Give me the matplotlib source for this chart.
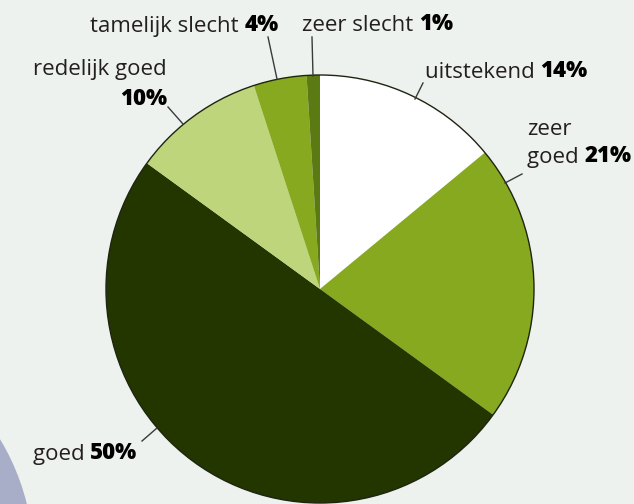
import matplotlib.pyplot as plt
from matplotlib.patches import Circle

# data
labels = ["uitstekend", "zeer goed", "goed", "redelijk goed", "tamelijk slecht", "zeer slecht"]
values = [14, 21, 50, 10, 4, 1]
colors = ["#ffffff", "#87a91f", "#233600", "#bfd57b", "#87a91f", "#5b7a14"]

W, H = 634, 504
bg = "#eef2ef"
txt_col = "#231f20"
font = "Open Sans"

fig = plt.figure(figsize=(W / 100, H / 100), dpi=100, facecolor=bg)
ax = fig.add_axes([0, 0, 1, 1])


def px(x, y):
    # image pixel coords -> axes data coords
    return x, H - y


# blue-grey shape in the bottom-left corner
ax.add_patch(Circle(px(-200, 560), 233, color="#a9aec8", zorder=0))

cx, cy = px(320, 289)
R = 214
ax.pie(values, colors=colors, startangle=90, counterclock=False,
       center=(cx, cy), radius=R, wedgeprops=dict(linewidth=0),
       frame=True)
ax.set_xlim(0, W)
ax.set_ylim(0, H)
ax.set_aspect("equal")
ax.axis("off")
ax.add_patch(Circle((cx, cy), R, fill=False, edgecolor="#1e2410", lw=1.0, zorder=5))

# leader lines (pixel positions)
leaders = [
    ((423, 83), (415, 99)),
    ((522, 174), (505, 183)),
    ((142, 441), (157, 428)),
    ((168, 107), (183, 124)),
    ((268, 37), (277, 79)),
    ((312, 37), (313, 76)),
]
for a, b in leaders:
    (x0, y0), (x1, y1) = px(*a), px(*b)
    ax.plot([x0, x1], [y0, y1], color="#3a3a3a", lw=1.0, zorder=6)

fs = 16


def left_label(x, y, normal, pct):
    t = ax.text(*px(x, y), normal + " ", fontsize=fs, family=font,
                color=txt_col, va="baseline", ha="left")
    ax.annotate(pct, xy=(1, 0), xycoords=t, fontsize=fs, family=font,
                fontweight="black", color="black", va="bottom", ha="left")


def right_label(x, y, normal, pct):
    t = ax.text(*px(x, y), pct, fontsize=fs, family=font, fontweight="black",
                color="black", va="baseline", ha="right")
    ax.annotate(normal + " ", xy=(0, 0), xycoords=t, fontsize=fs, family=font,
                color=txt_col, va="bottom", ha="right")


pct = [f"{v}%" for v in values]

left_label(425, 78, labels[0], pct[0])
ax.text(*px(527, 135), "zeer", fontsize=fs, family=font, color=txt_col,
        va="baseline", ha="left")
left_label(527, 163, "goed", pct[1])
left_label(33, 460, labels[2], pct[2])
ax.text(*px(167, 75), labels[3], fontsize=fs, family=font, color=txt_col,
        va="baseline", ha="right")
ax.text(*px(167, 105), pct[3], fontsize=fs, family=font, fontweight="black",
        color="black", va="baseline", ha="right")
right_label(279, 31, labels[4], pct[4])
left_label(302, 31, labels[5], pct[5])

fig.savefig("out.png", dpi=100, facecolor=bg)
